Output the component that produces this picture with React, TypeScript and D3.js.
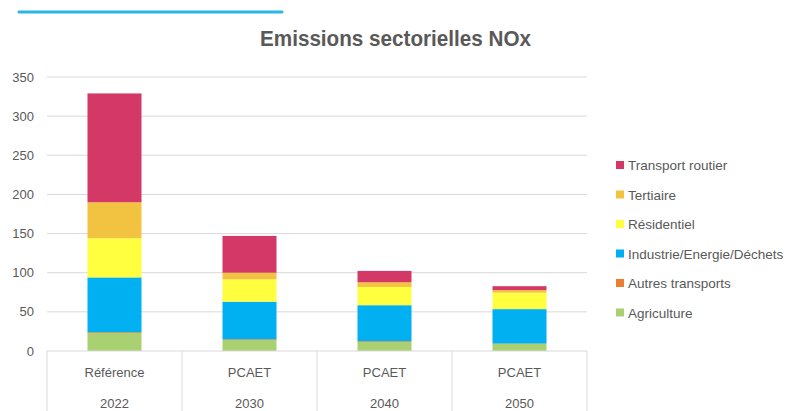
import React from "react";
import * as d3 from "d3";

const W = 793;
const H = 411;

const scenarios = ["Référence", "PCAET", "PCAET", "PCAET"];
const years = ["2022", "2030", "2040", "2050"];

const sectors = [
  "Agriculture",
  "Autres transports",
  "Industrie/Energie/Déchets",
  "Résidentiel",
  "Tertiaire",
  "Transport routier",
];
const sectorColors = ["#a9d071", "#ed7d31", "#00b0f0", "#ffff40", "#f2c241", "#d43866"];

// values per sector, ordered by year
const agriculture = [23, 14, 11.5, 9];
const autresTransports = [1, 1, 1, 0.5];
const industrie = [70, 48, 46, 44];
const residentiel = [50, 28.5, 23.3, 21];
const tertiaire = [46, 8.5, 6, 3.3];
const transportRoutier = [139, 47, 14.5, 5];

const yTicks = [0, 50, 100, 150, 200, 250, 300, 350];

const series = [agriculture, autresTransports, industrie, residentiel, tertiaire, transportRoutier];

export default function App() {
  const left = 47;
  const right = 587;
  const top = 77;
  const bottom = 351;

  const x = d3.scaleBand<number>().domain(d3.range(years.length)).range([left, right]).paddingInner(0).paddingOuter(0);
  const y = d3.scaleLinear().domain([0, 350]).range([bottom, top]);

  const rows = years.map((_, i) => {
    const r: Record<string, number> = { idx: i };
    sectors.forEach((s, k) => (r[s] = series[k][i]));
    return r;
  });
  const stacked = d3.stack<Record<string, number>>().keys(sectors)(rows);

  const barW = x.bandwidth() * 0.4;
  const textColor = "#595959";
  const font = "'Liberation Sans', Arial, sans-serif";

  const legendOrder = [...sectors.keys()].reverse();

  return (
    <svg width={W} height={H} style={{ position: "absolute", left: 0, top: 0 }} fontFamily={font}>
      <rect width={W} height={H} fill="#ffffff" />
      <line x1={19} x2={282} y1={12} y2={12} stroke="#29b6e6" strokeWidth={3} strokeLinecap="round" />
      <text
        x={260}
        y={46}
        fontWeight="bold"
        fontSize={22}
        fill={textColor}
        textLength={271}
        lengthAdjust="spacingAndGlyphs"
      >
        Emissions sectorielles NOx
      </text>

      {yTicks.map((t) => (
        <g key={t}>
          {t > 0 && <line x1={left} x2={right} y1={y(t)} y2={y(t)} stroke="#d9d9d9" strokeWidth={1} />}
          <text x={34} y={y(t) + 4.5} textAnchor="end" fontSize={13} fill={textColor}>
            {t}
          </text>
        </g>
      ))}

      {stacked.map((layer, k) => (
        <g key={sectors[k]} fill={sectorColors[k]}>
          {layer.map((d, i) => (
            <rect
              key={i}
              x={x(i)! + (x.bandwidth() - barW) / 2}
              y={y(d[1])}
              width={barW}
              height={Math.max(0, y(d[0]) - y(d[1]))}
            />
          ))}
        </g>
      ))}

      <line x1={left} x2={right} y1={bottom} y2={bottom} stroke="#d9d9d9" strokeWidth={1} />
      {d3.range(years.length + 1).map((i) => {
        const xx = i < years.length ? x(i)! : right;
        return <line key={i} x1={xx} x2={xx} y1={bottom} y2={H} stroke="#d9d9d9" strokeWidth={1} />;
      })}
      {years.map((yr, i) => (
        <g key={i}>
          <text x={x(i)! + x.bandwidth() / 2} y={377} textAnchor="middle" fontSize={13} fill={textColor}>
            {scenarios[i]}
          </text>
          <text x={x(i)! + x.bandwidth() / 2} y={408} textAnchor="middle" fontSize={13} fill={textColor}>
            {yr}
          </text>
        </g>
      ))}

      {legendOrder.map((k, j) => {
        const ly = 165.5 + j * 29.5;
        return (
          <g key={sectors[k]}>
            <rect x={616} y={ly - 4.5} width={8} height={8} fill={sectorColors[k]} />
            <text x={628} y={ly + 4.5} fontSize={13.5} fill={textColor}>
              {sectors[k]}
            </text>
          </g>
        );
      })}
    </svg>
  );
}
